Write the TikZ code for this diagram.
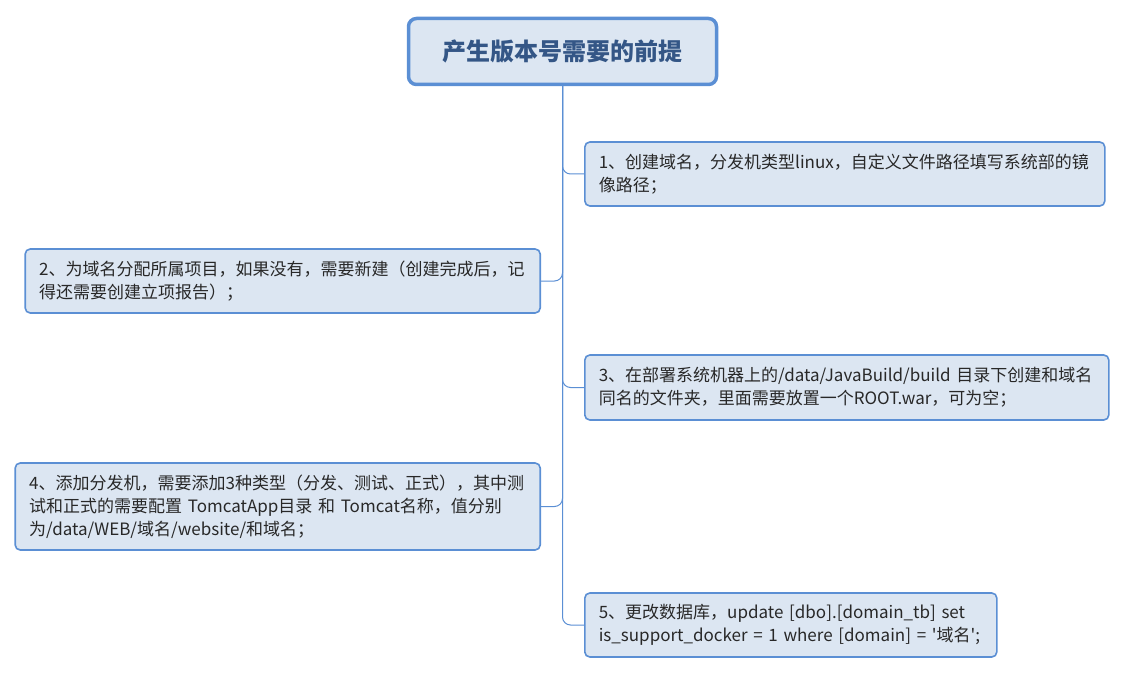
\documentclass[tikz,border=0pt]{standalone}
\usepackage{fontspec}
\setmainfont{Noto Sans CJK SC}[Ligatures=TeXOff]
\usepackage{tikz}
\definecolor{boxline}{RGB}{91,143,212}
\definecolor{boxfill}{RGB}{220,230,242}
\definecolor{titletext}{RGB}{52,86,134}
\definecolor{leaftext}{RGB}{40,40,40}
\begin{document}
\begin{tikzpicture}[x=1pt,y=-1pt,root/.style={shape=rectangle,draw=boxline,fill=boxfill,line width=3.5pt,rounded corners=8pt,minimum width=308pt,minimum height=66pt,font=\fontsize{24}{28}\selectfont\bfseries,text=titletext},leaf/.style={shape=rectangle,draw=boxline,fill=boxfill,line width=1.6pt,rounded corners=5pt,inner xsep=14pt,align=left,font=\fontsize{17}{23}\selectfont,text=leaftext},leafR/.style={leaf,anchor=west},leafL/.style={leaf,anchor=east},branch/.style={draw=boxline,line width=1pt,rounded corners=8pt}]
\def\xr{584};
\def\xl{541};
\useasboundingbox (0,0) rectangle (1125,674);

\node[root] (R) at (562.5,51.5) {产生版本号需要的前提};

\node[leafR,minimum width=520pt,minimum height=64pt,text width=492pt] (P1) at (\xr,174) {1、创建域名，分发机类型linux，自定义文件路径填写系统部的镜\\像路径；};
\node[leafL,minimum width=515pt,minimum height=64pt,text width=487pt] (P2) at (\xl,281) {2、为域名分配所属项目，如果没有，需要新建（创建完成后，记\\得还需要创建立项报告）；};
\node[leafR,minimum width=524pt,minimum height=65pt,text width=496pt] (P3) at (\xr,387.5) {3、在部署系统机器上的/data/JavaBuild/build 目录下创建和域名\\同名的文件夹，里面需要放置一个ROOT.war，可为空；};
\node[leafL,minimum width=525pt,minimum height=87pt,text width=497pt] (P4) at (\xl,506.5) {4、添加分发机，需要添加3种类型（分发、测试、正式），其中测\\试和正式的需要配置 TomcatApp目录 和 Tomcat名称，值分别\\为/data/WEB/域名/website/和域名；};
\node[leafR,minimum width=412pt,minimum height=64pt,text width=384pt] (P5) at (\xr,625) {5、更改数据库，update [dbo].[domain\_tb] set\\is\_support\_docker = 1 where [domain] = '域名';};

\draw[branch] (R.south) |- (P1.west);
\draw[branch] (R.south) |- (P2.east);
\draw[branch] (R.south) |- (P3.west);
\draw[branch] (R.south) |- (P4.east);
\draw[branch] (R.south) |- (P5.west);
\end{tikzpicture}
\end{document}
